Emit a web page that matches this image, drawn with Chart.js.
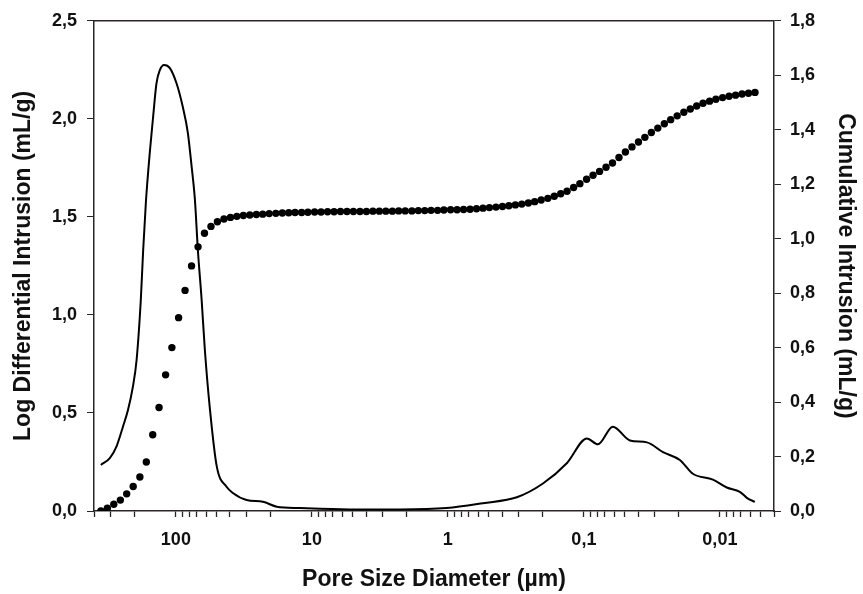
<!DOCTYPE html>
<html>
<head>
<meta charset="utf-8">
<script src="https://cdn.jsdelivr.net/npm/chart.js@4"></script>
<style>
  html, body { margin: 0; padding: 0; background: #fff; }
  #wrap { width: 863px; height: 594px; position: relative; }
</style>
</head>
<body>
<div id="wrap"><canvas id="poreChart"></canvas></div>
<script>
// pore diameters (um) of the cumulative intrusion points
const cumDiameters = [
  356, 319, 286, 256, 230, 206, 184, 165, 148, 133, 119, 107,
  95.5, 85.6, 76.7, 68.7, 61.6, 55.2, 49.5, 44.3, 39.7, 35.6, 31.9, 28.6, 25.6, 23.0, 20.6, 18.4, 16.5, 14.8, 13.3, 11.9, 10.7,
  9.55, 8.56, 7.67, 6.87, 6.16, 5.52, 4.95, 4.43, 3.97, 3.56, 3.19, 2.86, 2.56, 2.30, 2.06, 1.84, 1.65, 1.48, 1.33, 1.19, 1.07,
  0.955, 0.856, 0.767, 0.687, 0.616, 0.552, 0.495, 0.443, 0.397, 0.356, 0.319, 0.286, 0.256, 0.230, 0.206, 0.184, 0.165, 0.148, 0.133, 0.119, 0.107,
  0.0955, 0.0856, 0.0767, 0.0687, 0.0616, 0.0552, 0.0495, 0.0443, 0.0397, 0.0356, 0.0319, 0.0286, 0.0256, 0.0230, 0.0206, 0.0184, 0.0165, 0.0148, 0.0133, 0.0119, 0.0107,
  0.00955, 0.00856, 0.00767, 0.00687, 0.00616, 0.00552
];
// cumulative intrusion (mL/g)
const cumIntrusion = [
  0.0, 0.01, 0.025, 0.04, 0.063, 0.09, 0.125, 0.18, 0.28, 0.38, 0.50, 0.60,
  0.71, 0.81, 0.90, 0.97, 1.02, 1.045, 1.062, 1.072, 1.078, 1.082, 1.085, 1.087, 1.089, 1.090, 1.092, 1.093, 1.094, 1.095, 1.096, 1.096, 1.097,
  1.098, 1.098, 1.099, 1.099, 1.100, 1.100, 1.100, 1.100, 1.100, 1.101, 1.101, 1.101, 1.101, 1.102, 1.102, 1.102, 1.103, 1.103, 1.104, 1.104, 1.105,
  1.106, 1.106, 1.107, 1.108, 1.110, 1.112, 1.114, 1.116, 1.118, 1.121, 1.124, 1.127, 1.131, 1.136, 1.142, 1.148, 1.156, 1.165, 1.174, 1.188, 1.202,
  1.218, 1.233, 1.247, 1.262, 1.278, 1.298, 1.318, 1.337, 1.355, 1.372, 1.390, 1.406, 1.422, 1.437, 1.451, 1.464, 1.476,
  1.487, 1.497, 1.505, 1.512, 1.518, 1.523, 1.527, 1.531, 1.534, 1.537
];

// log differential intrusion curve
const diffDiameters = [
  356, 306, 273, 245, 225, 207, 194.5, 181, 174, 166, 155, 147, 139, 131, 122, 111, 98.8,
  88.9, 81.7, 76.7, 72.5, 68.9, 64.7, 61.2, 56.2, 50, 42.4, 38.1, 30.2, 22.9, 18.1, 12.3, 5.26, 2.25,
  1.02, 0.553, 0.311, 0.2, 0.133, 0.095, 0.0789, 0.0612, 0.0459, 0.0344, 0.0262, 0.0197, 0.0158,
  0.01125, 0.0089, 0.00713, 0.0063, 0.00553
];
const diffIntrusion = [
  0.235, 0.27, 0.33, 0.43, 0.515, 0.634, 0.77, 1.08, 1.33, 1.58, 1.84, 2.01, 2.18, 2.25, 2.275, 2.26, 2.18,
  2.06, 1.93, 1.76, 1.59, 1.33, 1.08, 0.82, 0.52, 0.226, 0.124, 0.092, 0.056, 0.047, 0.022, 0.015, 0.008, 0.008,
  0.015, 0.04, 0.07, 0.14, 0.245, 0.37, 0.34, 0.43, 0.36, 0.35, 0.30, 0.26, 0.19,
  0.16, 0.12, 0.098, 0.066, 0.046
];

const xMajorTicks = [100, 10, 1, 0.1, 0.01];
const xMajorLabels = ["100", "10", "1", "0,1", "0,01"];

const axisColor = "#2a2626";
const tickFont = { family: "Liberation Sans, Arial, sans-serif", size: 18, weight: "bold" };
const titleFont = { family: "Liberation Sans, Arial, sans-serif", size: 23, weight: "bold" };

function commaFmt(v, digits) {
  return Number(v).toFixed(digits).replace(".", ",");
}

const topLine = {
  id: "topLine",
  afterDraw(chart) {
    const a = chart.chartArea;
    const ctx = chart.ctx;
    ctx.save();
    ctx.strokeStyle = axisColor;
    ctx.lineWidth = 1.5;
    ctx.beginPath();
    ctx.moveTo(a.left, a.top);
    ctx.lineTo(a.right, a.top);
    ctx.stroke();
    ctx.restore();
  },
};

document.addEventListener("DOMContentLoaded", function () {
  const canvas = document.getElementById("poreChart");

  new Chart(canvas.getContext("2d"), {
    type: "scatter",
    data: {
      datasets: [
        {
          label: "Cumulative Intrusion",
          data: cumDiameters.map((d, i) => ({ x: d, y: cumIntrusion[i] })),
          yAxisID: "y2",
          showLine: false,
          pointRadius: 3.7,
          pointBackgroundColor: "#000",
          pointBorderWidth: 0,
          order: 0,
        },
        {
          label: "Log Differential Intrusion",
          data: diffDiameters.map((d, i) => ({ x: d, y: diffIntrusion[i] })),
          yAxisID: "y",
          showLine: true,
          borderColor: "#000",
          borderWidth: 2,
          cubicInterpolationMode: "monotone",
          pointRadius: 0,
          order: 1,
        },
      ],
    },
    options: {
      responsive: true,
      maintainAspectRatio: false,
      animation: false,
      layout: { padding: 0 },
      plugins: {
        legend: { display: false },
        tooltip: { enabled: false },
      },
      scales: {
        x: {
          type: "logarithmic",
          reverse: true,
          min: 0.004,
          max: 400,
          afterFit: (scale) => { scale.height = 83; },
          afterBuildTicks: (scale) => {
            const ticks = [];
            for (let e = -3; e <= 2; e++) {
              for (let m = 1; m <= 9; m++) {
                const v = m * Math.pow(10, e);
                if (v >= 0.004 && v <= 400) ticks.push({ value: v });
              }
            }
            scale.ticks = ticks;
          },
          border: { display: true, color: axisColor, width: 1.5 },
          grid: { drawOnChartArea: false, drawTicks: true, tickLength: 6, color: axisColor, tickWidth: 1.3 },
          ticks: {
            autoSkip: false,
            maxRotation: 0,
            padding: 12,
            color: "#111",
            font: tickFont,
            callback: function (value) {
              for (let i = 0; i < xMajorTicks.length; i++) {
                if (Math.abs(value - xMajorTicks[i]) / xMajorTicks[i] < 1e-6) return xMajorLabels[i];
              }
              return "";
            },
          },
          title: {
            display: true,
            text: "Pore Size Diameter (\u00b5m)",
            color: "#111",
            font: titleFont,
            padding: { top: 0, bottom: 1 },
          },
        },
        y: {
          position: "left",
          min: 0,
          max: 2.5,
          afterFit: (scale) => { scale.width = 94; },
          border: { display: true, color: axisColor, width: 1.5 },
          grid: { drawOnChartArea: false, tickLength: 7, color: axisColor },
          ticks: {
            stepSize: 0.5,
            padding: 10,
            color: "#111",
            font: tickFont,
            callback: (v) => commaFmt(v, 1),
          },
          title: {
            display: true,
            text: "Log Differential Intrusion (mL/g)",
            color: "#111",
            font: titleFont,
            padding: { top: 10, bottom: 0 },
          },
        },
        y2: {
          position: "right",
          min: 0,
          max: 1.8,
          afterFit: (scale) => { scale.width = 89; },
          border: { display: true, color: axisColor, width: 1.5 },
          grid: { drawOnChartArea: false, tickLength: 7, color: axisColor },
          ticks: {
            stepSize: 0.2,
            padding: 9,
            color: "#111",
            font: tickFont,
            callback: (v) => commaFmt(v, 1),
          },
          title: {
            display: true,
            text: "Cumulative Intrusion (mL/g)",
            color: "#111",
            font: titleFont,
            padding: { top: 4, bottom: 0 },
          },
        },
      },
    },
    plugins: [topLine],
  });
});
</script>
</body>
</html>
